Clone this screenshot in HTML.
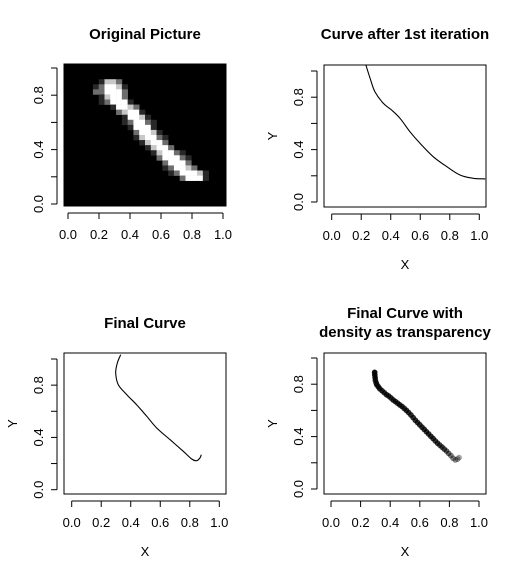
<!DOCTYPE html>
<html><head><meta charset="utf-8">
<style>
html,body{margin:0;padding:0;background:#fff;}
svg{display:block;font-family:"Liberation Sans",sans-serif;}
</style></head>
<body>
<svg id="c" width="519" height="576" viewBox="0 0 519 576" xmlns="http://www.w3.org/2000/svg"></svg>
<script>
const ticks=[0,0.2,0.4,0.6,0.8,1.0];
const tickLabels=["0.0","0.2","0.4","0.6","0.8","1.0"];
const yTicks=[0,0.4,0.8];
const yTickLabels=["0.0","0.4","0.8"];
const pictureRows=[
"............................",
"............................",
"............................",
"......1332..................",
".....12##31.................",
".....22###2.................",
"......13##2.................",
"......12###1................",
"........1##32...............",
".........23##1..............",
"..........1##31.............",
"..........12##21............",
"...........1###1............",
"............2##31...........",
"............13##21..........",
".............13##2..........",
"..............13##2.........",
"...............13##21.......",
"................2###21......",
".................2###2......",
".................12##32.....",
"..................12###31...",
"....................2###1...",
"............................",
"............................",
"............................",
"............................",
"............................"];
const iterX=[0.232,0.26,0.293,0.35,0.406,0.463,0.53,0.598,0.688,0.779,0.869,0.959,1.04];
const iterY=[1.045,0.944,0.842,0.753,0.702,0.639,0.537,0.448,0.346,0.27,0.206,0.181,0.176];
const finalX=[0.332,0.309,0.298,0.316,0.373,0.44,0.508,0.576,0.666,0.756,0.813,0.847,0.869,0.878];
const finalY=[1.033,0.969,0.893,0.803,0.727,0.65,0.562,0.472,0.383,0.294,0.235,0.222,0.243,0.268];
const densX=[0.295,0.296,0.298,0.30,0.305,0.31,0.32,0.33,0.345,0.36,0.375,0.39,0.405,0.42,0.435,0.45,0.465,0.48,0.495,0.51,0.525,0.54,0.555,0.57,0.585,0.60,0.615,0.63,0.645,0.66,0.675,0.69,0.705,0.72,0.735,0.75,0.765,0.78,0.795,0.81,0.825,0.84,0.855,0.865];
const densY=[0.89,0.87,0.85,0.83,0.81,0.795,0.78,0.765,0.75,0.735,0.72,0.71,0.695,0.68,0.668,0.655,0.642,0.63,0.615,0.60,0.583,0.565,0.545,0.525,0.507,0.49,0.472,0.455,0.437,0.42,0.402,0.385,0.367,0.35,0.335,0.32,0.305,0.29,0.272,0.255,0.235,0.222,0.228,0.24];
const densA=[0.95,0.9,0.85,0.8,0.8,0.8,0.8,0.8,0.8,0.8,0.8,0.8,0.8,0.8,0.8,0.8,0.8,0.8,0.8,0.8,0.8,0.8,0.8,0.8,0.8,0.8,0.8,0.8,0.8,0.8,0.8,0.8,0.75,0.75,0.7,0.7,0.65,0.6,0.55,0.5,0.45,0.4,0.35,0.35];

const svg=document.getElementById('c');
const NS='http://www.w3.org/2000/svg';
function mk(tag,attrs,parent){const e=document.createElementNS(NS,tag);for(const k in attrs)e.setAttribute(k,attrs[k]);(parent||svg).appendChild(e);return e;}

function panel(p){
  const g=mk('g',{});
  
  
  const sx=v=>p.x0+(p.x1-p.x0)*v;
  const sy=v=>p.y0+(p.y1-p.y0)*v;
  p.sx=sx;p.sy=sy;p.g=g;
  if(p.draw)p.draw(p);
  const box=mk('rect',{x:p.bx0,y:p.by0,width:p.bx1-p.bx0,height:p.by1-p.by0,fill:'none',stroke:'#000','stroke-width':1},g);
  
  
  const ax=mk('g',{},g);
  
  
  const ay0=p.by1+7;
  mk('line',{x1:sx(0),x2:sx(1),y1:ay0,y2:ay0,stroke:'#000'},ax);
  ticks.forEach((t,i)=>{
    mk('line',{x1:sx(t),x2:sx(t),y1:ay0,y2:ay0+6,stroke:'#000'},ax);
    const tx=mk('text',{x:sx(t),y:ay0+26,'font-size':13,'text-anchor':'middle'},ax);
    tx.textContent=tickLabels[i];
    
    
  });
  const yy=mk('g',{},g);
  
  
  const axx=p.bx0-7;
  mk('line',{x1:axx,x2:axx,y1:sy(0),y2:sy(1),stroke:'#000'},yy);
  ticks.forEach(t=>{mk('line',{x1:axx,x2:axx-6,y1:sy(t),y2:sy(t),stroke:'#000'},yy);});
  yTicks.forEach((t,i)=>{
    const tx=mk('text',{x:0,y:0,'font-size':13,'text-anchor':'middle',transform:`translate(${axx-14},${sy(t)}) rotate(-90)`},yy);
    tx.textContent=yTickLabels[i];
    
    
  });
  const cx=(p.bx0+p.bx1)/2;
  p.title.forEach((s,i)=>{
    const t=mk('text',{x:cx,y:p.ty+i*19,'font-size':15,'font-weight':'bold','text-anchor':'middle'},g);
    t.textContent=s;
    
    
  });
  if(p.labels){
    const xl=mk('text',{x:cx,y:p.by1+62,'font-size':13,'text-anchor':'middle'},g);
    xl.textContent='X';
    
    
    const yl=mk('text',{x:0,y:0,'font-size':13,'text-anchor':'middle',transform:`translate(${p.bx0-47},${(p.by0+p.by1)/2}) rotate(-90)`},g);
    yl.textContent='Y';
    
    
  }
}
const shade={'.':0,'1':40,'2':110,'3':200,'#':255};
function smoothPath(pts){
  let d='M'+pts[0][0].toFixed(1)+','+pts[0][1].toFixed(1);
  for(let i=0;i<pts.length-1;i++){
    const p0=pts[Math.max(0,i-1)],p1=pts[i],p2=pts[i+1],p3=pts[Math.min(pts.length-1,i+2)];
    const c1=[p1[0]+(p2[0]-p0[0])/6,p1[1]+(p2[1]-p0[1])/6];
    const c2=[p2[0]-(p3[0]-p1[0])/6,p2[1]-(p3[1]-p1[1])/6];
    d+=` C${c1[0].toFixed(1)},${c1[1].toFixed(1)} ${c2[0].toFixed(1)},${c2[1].toFixed(1)} ${p2[0].toFixed(1)},${p2[1].toFixed(1)}`;
  }
  return d;
}
function drawLine(xs,ys,name){return p=>{
  const pts=xs.map((v,i)=>[p.sx(v),p.sy(ys[i])]);
  const cp=mk('clipPath',{id:'cl'+name},p.g);
  mk('rect',{x:p.bx0,y:p.by0,width:p.bx1-p.bx0,height:p.by1-p.by0},cp);
  const l=mk('path',{d:smoothPath(pts),fill:'none',stroke:'#000','stroke-width':1.1,'clip-path':`url(#cl${name})`},p.g);
  
  
};}

panel({name:'panel-original-picture',bx0:64,bx1:226,by0:64,by1:206,x0:68,x1:223,y0:204,y1:68,ty:39,title:['Original Picture'],labels:false,
  draw:p=>{
    const n=pictureRows.length,cw=(p.bx1-p.bx0)/28,ch=(p.by1-p.by0)/n;
    const img=mk('g',{},p.g);
    
    
    mk('rect',{x:p.bx0,y:p.by0,width:p.bx1-p.bx0,height:p.by1-p.by0,fill:'#000'},img);
    pictureRows.forEach((row,r)=>{[...row].forEach((ch2,c)=>{
      const v=shade[ch2];if(!v)return;
      mk('rect',{x:p.bx0+c*cw,y:p.by0+r*ch,width:cw+0.3,height:ch+0.3,fill:`rgb(${v},${v},${v})`},img);
    });});
  }});
panel({name:'panel-first-iteration',bx0:324,bx1:486,by0:65,by1:207,x0:331.7,x1:479.3,y0:202,y1:71,ty:39,title:['Curve after 1st iteration'],labels:true,
  draw:drawLine(iterX,iterY,'iteration-curve')});
panel({name:'panel-final-curve',bx0:64,bx1:226,by0:353,by1:494,x0:71.7,x1:219.3,y0:489.7,y1:359,ty:328,title:['Final Curve'],labels:true,
  draw:drawLine(finalX,finalY,'final-curve')});
panel({name:'panel-density-curve',bx0:324,bx1:486,by0:353,by1:494,x0:331,x1:479,y0:489,y1:358,ty:318,title:['Final Curve with','density as transparency'],labels:true,
  draw:p=>{
    densX.forEach((v,i)=>{
      const c=mk('circle',{cx:p.sx(v),cy:p.sy(densY[i]),r:2.6,fill:'#000','fill-opacity':densA[i],stroke:'#000','stroke-opacity':densA[i]*0.8,'stroke-width':0.6},p.g);
      
      
    });
  }});
</script>
</body></html>
